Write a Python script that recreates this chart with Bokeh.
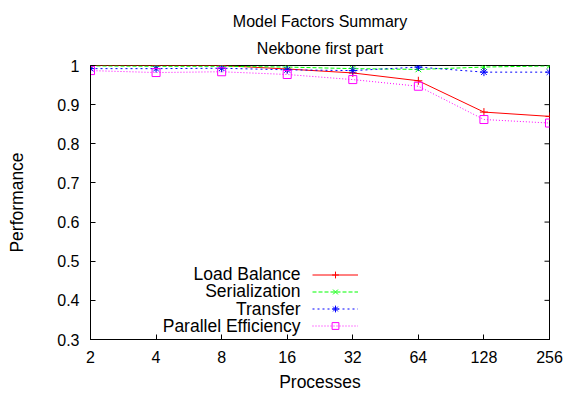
import math
from bokeh.plotting import figure
from bokeh.models import (Range1d, FixedTicker, Legend, LegendItem, Label, Title)
from bokeh.embed import file_html
from bokeh.resources import INLINE

procs = [2, 4, 8, 16, 32, 64, 128, 256]
proc_labels = ["2", "4", "8", "16", "32", "64", "128", "256"]
load_balance = [1.0, 1.0, 1.0, 0.991, 0.981, 0.961, 0.881, 0.870]
serialization = [0.999, 0.998, 0.998, 0.996, 0.992, 0.990, 0.996, 0.999]
transfer = [0.992, 0.992, 0.993, 0.989, 0.987, 0.996, 0.983, 0.983]
parallel_eff = [0.987, 0.982, 0.984, 0.977, 0.964, 0.947, 0.862, 0.853]
y_ticks = [0.3, 0.4, 0.5, 0.6, 0.7, 0.8, 0.9, 1.0]
y_tick_labels = ["0.3", "0.4", "0.5", "0.6", "0.7", "0.8", "0.9", "1"]
series_names = ["Load Balance", "Serialization", "Transfer", "Parallel Efficiency"]
title_lines = ["Model Factors Summary", "Nekbone first part"]

FONT = "Liberation Sans"
FS = "16px"
FL = "17.5px"

p = figure(width=568, height=394, x_axis_type="log", output_backend="svg", title=None,
           toolbar_location=None, x_range=Range1d(2, 256), y_range=Range1d(0.3, 1.0),
           min_border_left=90, min_border_right=19, min_border_top=65, min_border_bottom=53)
p.grid.visible = False
p.outline_line_color = "black"
p.outline_line_width = 1
p.background_fill_color = "white"
p.border_fill_color = "white"

# two-line title, one Title per line
p.add_layout(Title(text=title_lines[1], align="center", offset=-26, text_font=FONT,
                   text_font_size=FS, text_font_style="normal", text_color="black",
                   standoff=17, text_line_height=1.0), "above")
p.add_layout(Title(text=title_lines[0], align="center", offset=-26, text_font=FONT,
                   text_font_size=FS, text_font_style="normal", text_color="black",
                   standoff=0, text_line_height=1.0), "above")

xa = p.xaxis[0]
xa.ticker = FixedTicker(ticks=procs)
xa.major_label_overrides = {v: l for v, l in zip(procs, proc_labels)}
xa.axis_label = "Processes"
ya = p.yaxis[0]
ya.ticker = FixedTicker(ticks=y_ticks)
ya.major_label_overrides = {v: l for v, l in zip(y_ticks, y_tick_labels)}
ya.axis_label = "Performance"
for ax in (xa, ya):
    ax.major_tick_in = 5
    ax.major_tick_out = 0
    ax.minor_tick_in = 0
    ax.minor_tick_out = 0
    ax.axis_line_color = "black"
    ax.major_tick_line_color = "black"
    ax.major_label_text_font = FONT
    ax.major_label_text_font_size = FS
    ax.major_label_text_color = "black"
    ax.axis_label_text_font = FONT
    ax.axis_label_text_font_size = FL
    ax.axis_label_text_font_style = "normal"
    ax.axis_label_text_color = "black"
xa.major_label_standoff = 11
xa.axis_label_standoff = 6
ya.major_label_standoff = 11
ya.axis_label_standoff = 27

# mirrored tick marks on right and top borders (clipped to the frame)
p.scatter([procs[-1]] * len(y_ticks), y_ticks, marker="dash", size=10,
          line_color="black", line_width=1)
p.scatter(procs, [y_ticks[-1]] * len(procs), marker="dash", angle=math.pi / 2, size=10,
          line_color="black", line_width=1)

series = [
    (series_names[0], load_balance, "#ff0000", "solid", "cross"),
    (series_names[1], serialization, "#00ff00", "4 2", "x"),
    (series_names[2], transfer, "#0000ff", "2 3", "asterisk"),
    (series_names[3], parallel_eff, "#ff00ff", "1 2", "square"),
]
items = []
for name, vals, col, dash, mk in series:
    l = p.line(procs, vals, line_color=col, line_width=1, line_dash=dash)
    s = p.scatter(procs, vals, marker=mk, size=8, line_color=col, fill_color=None, line_width=1)
    items.append(LegendItem(label=" ", renderers=[l, s]))

# legend samples (text placed to their left, gnuplot style)
leg = Legend(items=items, location=(222, 5), glyph_width=46, glyph_height=17,
             label_height=17, label_width=0, label_standoff=0, spacing=0, padding=0,
             margin=0, border_line_color=None, background_fill_alpha=0,
             label_text_font=FONT, label_text_font_size="12px")
p.add_layout(leg, "center")

for name, yy in zip(series_names, [66, 48.5, 31, 13.5]):
    p.add_layout(Label(x=210, y=yy, x_units="screen", y_units="screen", text=name,
                       text_align="right", text_baseline="middle", text_font=FONT,
                       text_font_size=FL, text_color="black"))

open("out.html", "w").write(file_html(p, INLINE))
